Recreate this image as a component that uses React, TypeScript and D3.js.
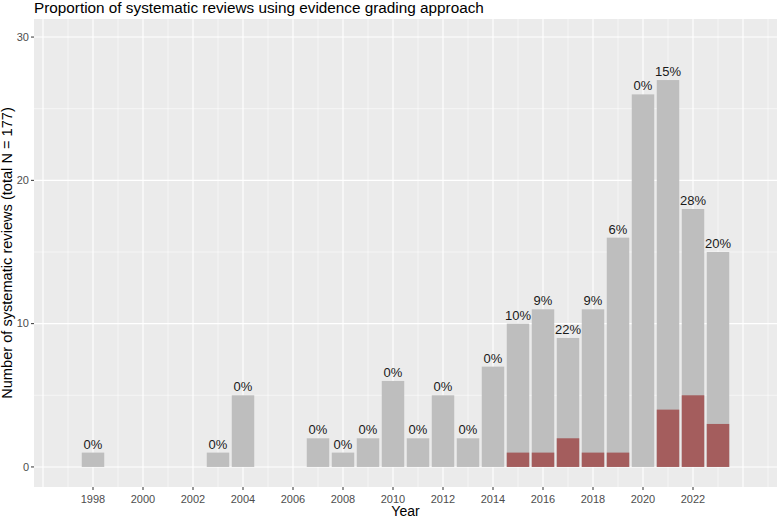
import React, { useEffect, useRef } from 'react';
import * as d3 from 'd3';

const years = [1998, 2003, 2004, 2007, 2008, 2009, 2010, 2011, 2012, 2013, 2014, 2015, 2016, 2017, 2018, 2019, 2020, 2021, 2022, 2023];
const totals = [1, 1, 5, 2, 1, 2, 6, 2, 5, 2, 7, 10, 11, 9, 11, 16, 26, 27, 18, 15];
const graded = [0, 0, 0, 0, 0, 0, 0, 0, 0, 0, 0, 1, 1, 2, 1, 1, 0, 4, 5, 3];
const pctLabels = ['0%', '0%', '0%', '0%', '0%', '0%', '0%', '0%', '0%', '0%', '0%', '10%', '9%', '22%', '9%', '6%', '0%', '15%', '28%', '20%'];
const xTicks = [1998, 2000, 2002, 2004, 2006, 2008, 2010, 2012, 2014, 2016, 2018, 2020, 2022];
const yTicks = [0, 10, 20, 30];

const App = () => {
  const container = useRef(null);

  useEffect(() => {
    document.body.style.margin = '0';
    draw();
  }, []);

  const draw = () => {
    const width = 777;
    const height = 520;
    const margins = { l: 34, t: 19, r: 0, b: 33 };
    const font = 'Arial, "Liberation Sans", sans-serif';

    const xScale = d3.scaleLinear().domain([1995.64, 2025.36]).range([margins.l, width - margins.r]);
    const yScale = d3.scaleLinear().domain([-1.4, 31.26]).range([height - margins.b, margins.t]);
    const barW = (xScale(1) - xScale(0)) * 0.9;

    const svg = d3.select(container.current).selectAll('svg').data([0]).join('svg');
    svg.attr('width', width).attr('height', height).style('display', 'block');
    svg.selectAll('*').remove();

    svg.append('rect').attr('width', width).attr('height', height).attr('fill', '#fff');

    // panel
    svg
      .append('rect')
      .attr('x', margins.l)
      .attr('y', margins.t)
      .attr('width', width - margins.r - margins.l)
      .attr('height', height - margins.b - margins.t)
      .attr('fill', '#EBEBEB');

    const grid = svg.append('g');
    // minor y grid
    grid
      .selectAll('.ymin')
      .data([5, 15, 25])
      .join('line')
      .attr('x1', margins.l)
      .attr('x2', width - margins.r)
      .attr('y1', d => yScale(d))
      .attr('y2', d => yScale(d))
      .attr('stroke', '#fff')
      .attr('stroke-width', 0.55);
    // minor x grid (odd years)
    grid
      .selectAll('.xmin')
      .data(d3.range(1997, 2026, 2))
      .join('line')
      .attr('y1', margins.t)
      .attr('y2', height - margins.b)
      .attr('x1', d => xScale(d))
      .attr('x2', d => xScale(d))
      .attr('stroke', '#fff')
      .attr('stroke-width', 0.55);
    grid
      .selectAll('.ymaj')
      .data(yTicks)
      .join('line')
      .attr('x1', margins.l)
      .attr('x2', width - margins.r)
      .attr('y1', d => yScale(d))
      .attr('y2', d => yScale(d))
      .attr('stroke', '#fff')
      .attr('stroke-width', 1.1);
    grid
      .selectAll('.xmaj')
      .data(d3.range(1996, 2025, 2))
      .join('line')
      .attr('y1', margins.t)
      .attr('y2', height - margins.b)
      .attr('x1', d => xScale(d))
      .attr('x2', d => xScale(d))
      .attr('stroke', '#fff')
      .attr('stroke-width', 1.1);

    const idx = d3.range(years.length);

    svg
      .append('g')
      .selectAll('rect')
      .data(idx)
      .join('rect')
      .attr('x', i => xScale(years[i]) - barW / 2)
      .attr('width', barW)
      .attr('y', i => yScale(totals[i]))
      .attr('height', i => yScale(0) - yScale(totals[i]))
      .attr('fill', '#BEBEBE');

    svg
      .append('g')
      .selectAll('rect')
      .data(idx.filter(i => graded[i] > 0))
      .join('rect')
      .attr('x', i => xScale(years[i]) - barW / 2)
      .attr('width', barW)
      .attr('y', i => yScale(graded[i]))
      .attr('height', i => yScale(0) - yScale(graded[i]))
      .attr('fill', '#A45D5D');

    svg
      .append('g')
      .selectAll('text')
      .data(idx)
      .join('text')
      .attr('x', i => xScale(years[i]))
      .attr('y', i => yScale(totals[i]) - 4)
      .attr('text-anchor', 'middle')
      .attr('font-family', font)
      .attr('font-size', 13)
      .attr('fill', '#1a1a1a')
      .text(i => pctLabels[i]);

    // x axis
    const xa = svg.append('g');
    xa.selectAll('line')
      .data(xTicks)
      .join('line')
      .attr('x1', d => xScale(d))
      .attr('x2', d => xScale(d))
      .attr('y1', height - margins.b)
      .attr('y2', height - margins.b + 3)
      .attr('stroke', '#333')
      .attr('stroke-width', 1);
    xa.selectAll('text')
      .data(xTicks)
      .join('text')
      .attr('x', d => xScale(d))
      .attr('y', 503)
      .attr('text-anchor', 'middle')
      .attr('font-family', font)
      .attr('font-size', 11)
      .attr('fill', '#4D4D4D')
      .text(d => d);

    // y axis
    const ya = svg.append('g');
    ya.selectAll('line')
      .data(yTicks)
      .join('line')
      .attr('x1', margins.l - 3)
      .attr('x2', margins.l)
      .attr('y1', d => yScale(d))
      .attr('y2', d => yScale(d))
      .attr('stroke', '#333')
      .attr('stroke-width', 1);
    ya.selectAll('text')
      .data(yTicks)
      .join('text')
      .attr('x', margins.l - 5)
      .attr('y', d => yScale(d))
      .attr('dy', '0.35em')
      .attr('text-anchor', 'end')
      .attr('font-family', font)
      .attr('font-size', 11)
      .attr('fill', '#4D4D4D')
      .text(d => d);

    svg
      .append('text')
      .attr('x', (margins.l + width) / 2)
      .attr('y', 516)
      .attr('text-anchor', 'middle')
      .attr('font-family', font)
      .attr('font-size', 14)
      .attr('fill', '#000')
      .text('Year');

    svg
      .append('text')
      .attr('transform', `translate(12, ${(margins.t + height - margins.b) / 2}) rotate(-90)`)
      .attr('text-anchor', 'middle')
      .attr('font-family', font)
      .attr('font-size', 14.6)
      .attr('fill', '#000')
      .text('Number of systematic reviews (total N = 177)');

    svg
      .append('text')
      .attr('x', margins.l)
      .attr('y', 13)
      .attr('font-family', font)
      .attr('font-size', 15.3)
      .attr('fill', '#000')
      .text('Proportion of systematic reviews using evidence grading approach');
  };

  return <div ref={container}></div>;
};

export default App;
